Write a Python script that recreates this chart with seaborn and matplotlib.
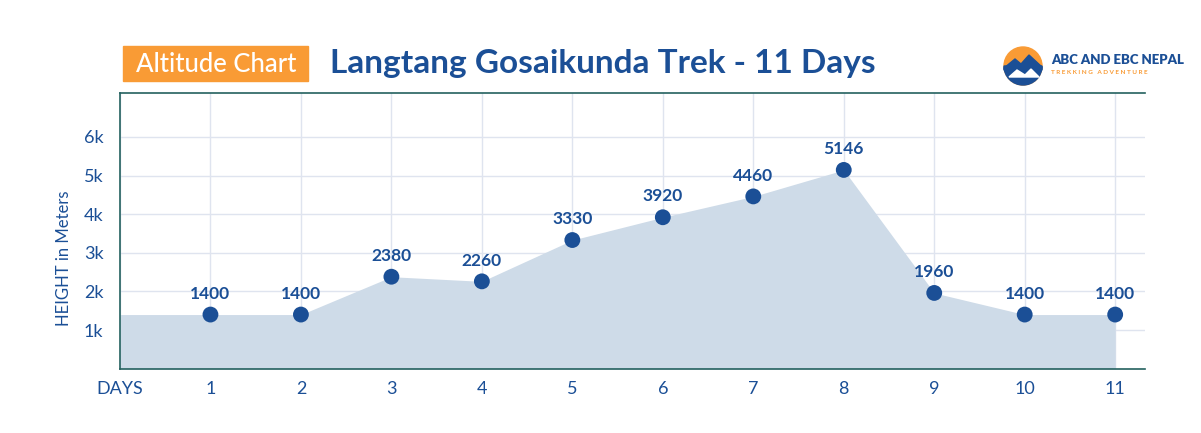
import numpy as np
import pandas as pd
import seaborn as sns
import matplotlib.pyplot as plt
from matplotlib.patches import Rectangle, Circle, Polygon, Wedge

# dados do gráfico
days = [1, 2, 3, 4, 5, 6, 7, 8, 9, 10, 11]
altitudes = [1400, 1400, 2380, 2260, 3330, 3920, 4460, 5146, 1960, 1400, 1400]
day_labels = ["DAYS", "1", "2", "3", "4", "5", "6", "7", "8", "9", "10", "11"]
y_ticks = [1000, 2000, 3000, 4000, 5000, 6000]
y_labels = ["1k", "2k", "3k", "4k", "5k", "6k"]

azul = "#1b4f96"
orange = "#f99b35"
spine_col = "#24615f"

sns.set_theme(style="whitegrid")
plt.rcParams["font.family"] = ["Lato", "DejaVu Sans"]

df = pd.DataFrame({"day": days, "altitude": altitudes})

fig = plt.figure(figsize=(12.01, 4.33), dpi=100)
ax = fig.add_axes([0.0999, 0.1487, 0.8535, 0.6358])

# área preenchida (começa no dia 0 com a altitude do dia 1)
fill_x = [0] + days
fill_y = [altitudes[0]] + altitudes
ax.fill_between(fill_x, fill_y, 0, color="#cedbe8", linewidth=0, zorder=1)

sns.scatterplot(data=df, x="day", y="altitude", s=130, color=azul,
                edgecolor="none", ax=ax, zorder=3)

for d, a in zip(days, altitudes):
    ax.annotate(str(a), (d, a), xytext=(0, 15), textcoords="offset points",
                ha="center", va="center", fontsize=12.5, fontweight="bold",
                color=azul, zorder=4)

ax.set_xlim(0, 11.33)
ax.set_ylim(0, 7130)
ax.set_xticks(range(0, 12))
ax.set_xticklabels(day_labels)
ax.set_yticks(y_ticks)
ax.set_yticklabels(y_labels)
ax.tick_params(axis="both", colors=azul, labelsize=13, length=0)
ax.tick_params(axis="x", pad=9)
ax.tick_params(axis="y", pad=12)
ax.set_xlabel("")
ax.set_ylabel("HEIGHT in Meters", color=azul, fontsize=12)
ax.yaxis.set_label_coords(-0.047, 0.40)
ax.grid(True, color="#dfe4ef", linewidth=1)
ax.set_axisbelow(True)

for s in ["left", "top", "bottom"]:
    ax.spines[s].set_color(spine_col)
    ax.spines[s].set_linewidth(1.2)
ax.spines["right"].set_visible(False)

# cabeçalho
fig.patches.append(Rectangle((123 / 1201, 1 - 81 / 433), 185 / 1201, 35 / 433,
                             transform=fig.transFigure, color=orange))
fig.text(216 / 1201, 1 - 64 / 433, "Altitude Chart", color="white",
         fontsize=18.5, fontweight="medium", ha="center", va="center")
fig.text(603 / 1201, 1 - 64 / 433, "Langtang Gosaikunda Trek - 11 Days",
         color=azul, fontsize=24, fontweight="bold", ha="center", va="center")

# logo simples
lax = fig.add_axes([1003 / 1201, 1 - 86 / 433, 40 / 1201, 40 / 433])
lax.set_xlim(-1, 1)
lax.set_ylim(-1, 1)
lax.set_aspect("equal")
lax.axis("off")
lax.add_patch(Circle((0, 0), 0.95, color=orange))
lax.add_patch(Wedge((0, 0), 0.95, 180, 360, color=azul))
lax.add_patch(Polygon([(-0.95, -0.1), (-0.4, 0.35), (-0.1, 0.1), (0.3, 0.55),
                       (0.95, -0.05), (0.95, -0.2), (-0.95, -0.2)], color=azul))
lax.add_patch(Polygon([(-0.7, -0.55), (-0.3, -0.2), (0.1, -0.45), (0.4, -0.15),
                       (0.8, -0.55)], color="white"))
fig.text(1051 / 1201, 1 - 60 / 433, "ABC AND EBC NEPAL", color=azul,
         fontsize=9.5, fontweight="heavy", ha="left", va="center")
fig.text(1051 / 1201, 1 - 73 / 433, "T R E K K I N G   A D V E N T U R E",
         color=orange, fontsize=4.6, fontweight="bold", ha="left", va="center")

fig.savefig("out.png", dpi=100)
